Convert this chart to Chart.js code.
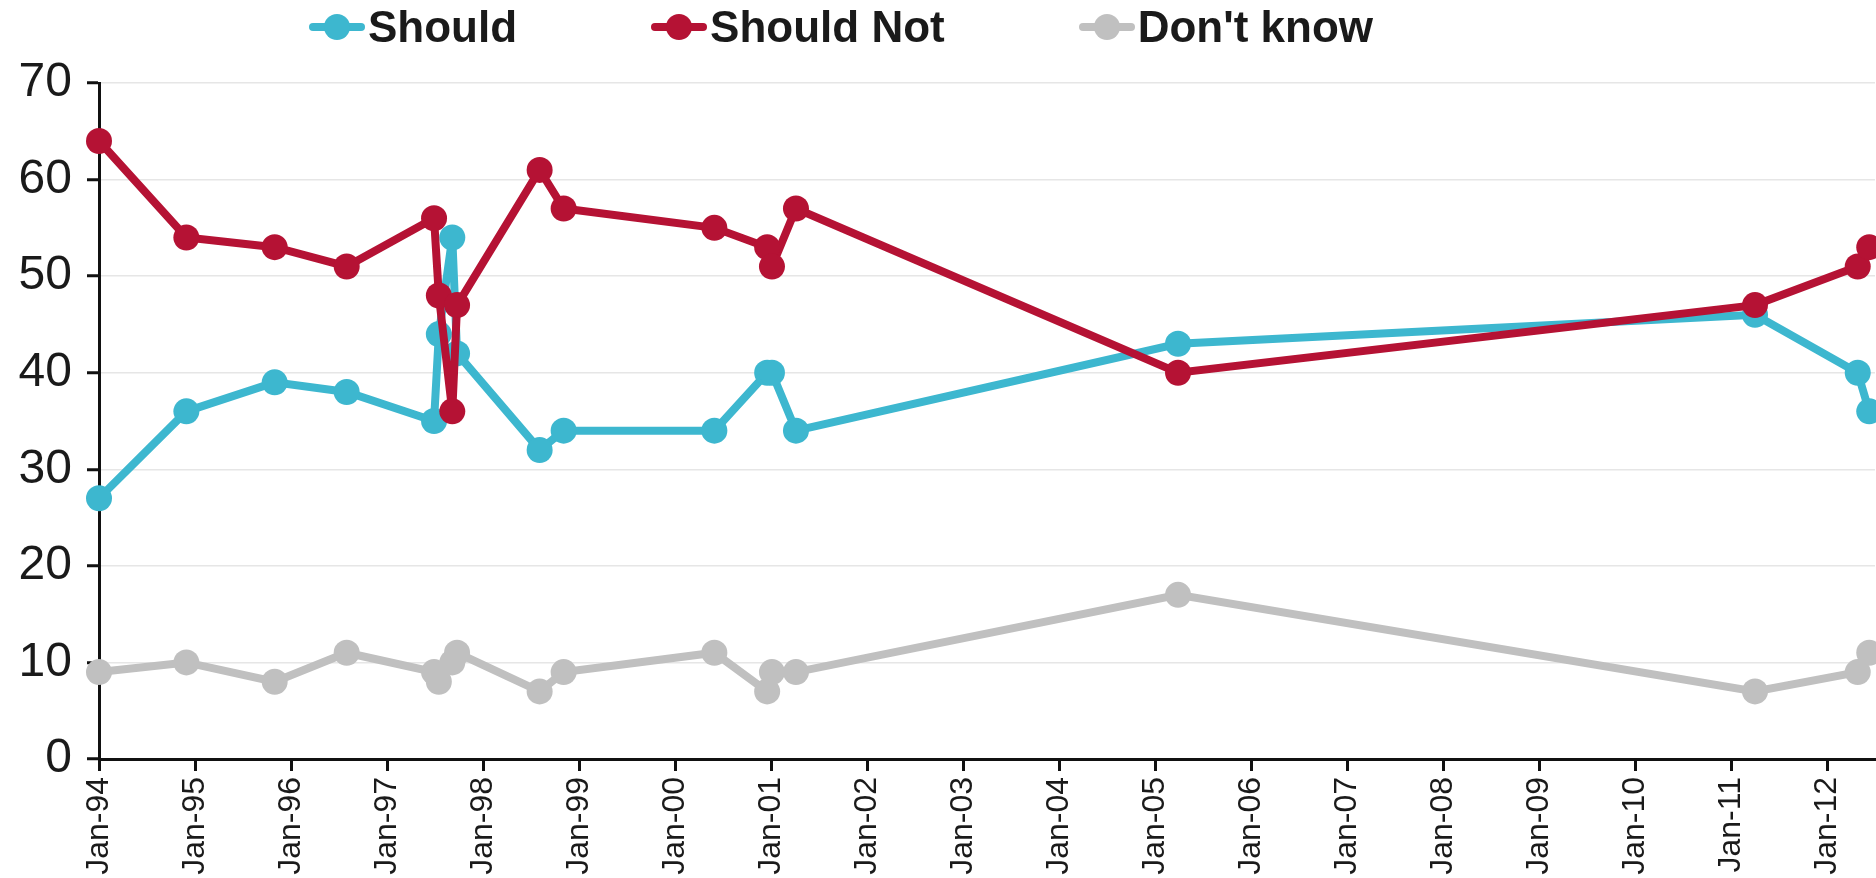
<!DOCTYPE html>
<html>
<head>
<meta charset="utf-8">
<script src="https://cdn.jsdelivr.net/npm/chart.js@4/dist/chart.umd.min.js"></script>
<style>
	html, body { margin: 0; padding: 0; background: #fff; overflow: hidden; }
	#wrap { position: relative; width: 1876px; height: 878px; overflow: hidden; }
	#plot { position: absolute; left: 0; top: 0; width: 1888px; height: 878px; }
	#legend {
		position: absolute; left: 309px; top: 0; height: 54px;
		display: flex; align-items: center; gap: 134px;
		font: bold 44px "Liberation Sans", Arial, sans-serif; color: #1a1a1a;
	}
	.item { display: flex; align-items: center; gap: 3px; white-space: nowrap; }
	.swatch { position: relative; width: 56px; height: 8px; border-radius: 4px; }
	.swatch span { position: absolute; left: 15px; top: -9px; width: 26px; height: 26px; border-radius: 50%; }
</style>
</head>
<body>
<div id="wrap">
	<div id="plot"><canvas id="chartPoll"></canvas></div>
	<div id="legend"></div>
</div>
<script>
'use strict'

// survey dates as decimal years
const surveyYear = [1994.00, 1994.91, 1995.83, 1996.58, 1997.49, 1997.54, 1997.68, 1997.73, 1998.59, 1998.84, 2000.41, 2000.96, 2001.01, 2001.26, 2005.24, 2011.25, 2012.32, 2012.44];
const should = [27, 36, 39, 38, 35, 44, 54, 42, 32, 34, 34, 40, 40, 34, 43, 46, 40, 36];
const shouldNot = [64, 54, 53, 51, 56, 48, 36, 47, 61, 57, 55, 53, 51, 57, 40, 47, 51, 53];
const dontKnow = [9, 10, 8, 11, 9, 8, 10, 11, 7, 9, 11, 7, 9, 9, 17, 7, 9, 11];

const tickYears = [1994, 1995, 1996, 1997, 1998, 1999, 2000, 2001, 2002, 2003, 2004, 2005, 2006, 2007, 2008, 2009, 2010, 2011, 2012];
const tickLabels = ['Jan-94', 'Jan-95', 'Jan-96', 'Jan-97', 'Jan-98', 'Jan-99', 'Jan-00', 'Jan-01', 'Jan-02', 'Jan-03', 'Jan-04', 'Jan-05', 'Jan-06', 'Jan-07', 'Jan-08', 'Jan-09', 'Jan-10', 'Jan-11', 'Jan-12'];

const colors = {
	blue: '#3db7cf',
	red: '#b51234',
	gray: '#c0c0c0',
	grid: '#e6e6e6',
	axis: '#111111',
	text: '#1a1a1a',
};

function points(values) {
	return values.map(function (v, i) {
		return { x: surveyYear[i], y: v };
	});
}

function series(label, values, color, order) {
	return {
		label: label,
		data: points(values),
		order: order,
		borderColor: color,
		backgroundColor: color,
		pointBackgroundColor: color,
		borderWidth: 8,
		pointRadius: 13,
		pointBorderWidth: 0,
		pointHoverRadius: 13,
		tension: 0,
		clip: false,
	};
}

const datasets = [
	series('Should', should, colors.blue, 1),
	series('Should Not', shouldNot, colors.red, 0),
	series("Don't know", dontKnow, colors.gray, 2),
];

let chartPoll = new Chart(document.getElementById('chartPoll'), {
	type: 'line',
	data: { datasets: datasets },
	options: {
		responsive: true,
		maintainAspectRatio: false,
		animation: false,
		layout: {
			padding: { top: 83, left: 0, right: 0, bottom: 0 },
		},
		plugins: {
			legend: { display: false },
			tooltip: { enabled: false },
		},
		scales: {
			x: {
				type: 'linear',
				min: 1994,
				max: 2012.5,
				afterBuildTicks: function (scale) {
					scale.ticks = tickYears.map(function (v) { return { value: v }; });
				},
				afterFit: function (scale) {
					scale.paddingLeft = 0;
					scale.paddingRight = 0;
					scale.height = 119;
				},
				ticks: {
					autoSkip: false,
					maxRotation: 90,
					minRotation: 90,
					padding: 6,
					color: colors.text,
					font: { family: '"Liberation Sans", Arial, sans-serif', size: 32 },
					callback: function (value) {
						return tickLabels[tickYears.indexOf(value)];
					},
				},
				grid: {
					drawOnChartArea: false,
					tickLength: 12,
					tickColor: colors.axis,
					lineWidth: 3,
				},
				border: { color: colors.axis, width: 3 },
			},
			y: {
				min: 0,
				max: 70,
				afterFit: function (scale) {
					scale.width = 99;
				},
				ticks: {
					stepSize: 10,
					padding: 15,
					color: colors.text,
					font: { family: '"Liberation Sans", Arial, sans-serif', size: 48 },
				},
				grid: {
					color: colors.grid,
					lineWidth: 1.5,
					tickLength: 12,
					tickColor: colors.axis,
					tickWidth: 3,
				},
				border: { color: colors.axis, width: 3 },
			},
		},
	},
});

// legend: line with a dot, then the label
const legendEl = document.getElementById('legend');
[0, 1, 2].forEach(function (i) {
	const ds = chartPoll.data.datasets[i];
	const item = document.createElement('div');
	item.className = 'item';
	item.innerHTML = '<div class="swatch" style="background:' + ds.borderColor + '"><span style="background:' + ds.borderColor + '"></span></div><div>' + ds.label + '</div>';
	legendEl.appendChild(item);
});
</script>
</body>
</html>
